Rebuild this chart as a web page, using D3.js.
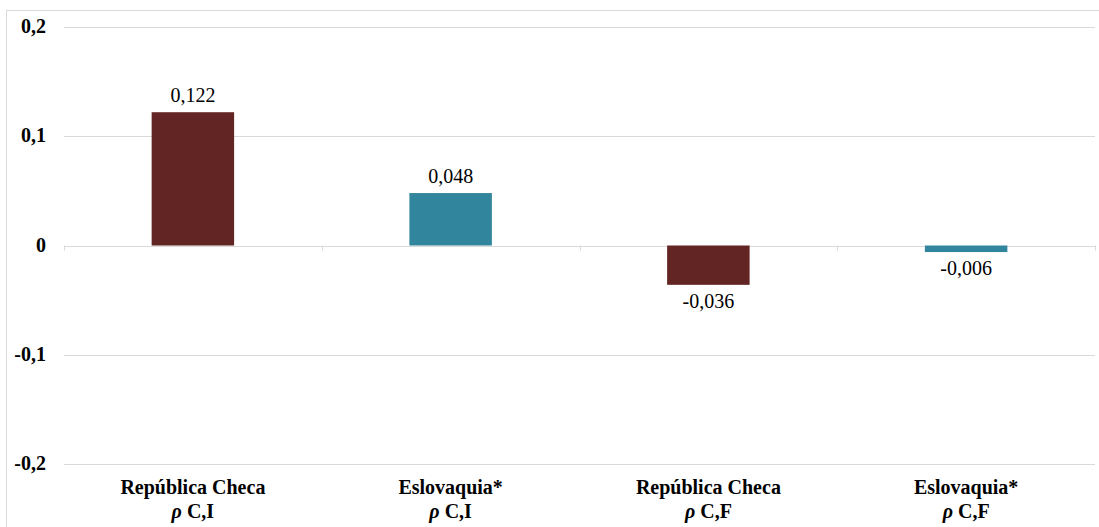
<!DOCTYPE html>
<html>
<head>
<meta charset="utf-8">
<script src="https://cdn.jsdelivr.net/npm/d3@7"></script>
<style>
  body { margin: 0; background: #fff; }
  svg { display: block; }
  svg text { font-family: 'Liberation Serif', 'Times New Roman', 'DejaVu Serif', serif; }
</style>
</head>
<body>
<script>
const countries = ["República Checa", "Eslovaquia*", "República Checa", "Eslovaquia*"];
const measures = ["C,I", "C,I", "C,F", "C,F"];
const values = [0.122, 0.048, -0.036, -0.006];
const barColors = ["#632523", "#31859c", "#632523", "#31859c"];
const yTicks = [-0.2, -0.1, 0, 0.1, 0.2];

const width = 1099, height = 527;
const margin = { top: 27, right: 4, bottom: 63, left: 64 };

const svg = d3.select("body").append("svg")
  .attr("width", width).attr("height", height);

// outer frame
svg.append("rect")
  .attr("x", 6.5).attr("y", 10.5)
  .attr("width", width).attr("height", height)
  .attr("fill", "none").attr("stroke", "#d9d9d9");

const x = d3.scaleBand()
  .domain(d3.range(values.length))
  .range([margin.left, width - margin.right])
  .paddingInner(0.68).paddingOuter(0.34);

const y = d3.scaleLinear()
  .domain([-0.2, 0.2])
  .range([464, 27]);

const comma = (d, p) => d3.format(p)(d).replace(".", ",").replace("\u2212", "-");

// gridlines
svg.append("g")
  .selectAll("line")
  .data(yTicks)
  .join("line")
  .attr("x1", margin.left).attr("x2", width - margin.right)
  .attr("y1", d => Math.round(y(d)) + 0.5).attr("y2", d => Math.round(y(d)) + 0.5)
  .attr("stroke", "#d9d9d9").attr("stroke-width", 1);

// y labels
svg.append("g")
  .selectAll("text")
  .data(yTicks)
  .join("text")
  .attr("x", 46)
  .attr("y", d => y(d) + 6)
  .attr("text-anchor", "end")
  .attr("font-weight", "bold")
  .attr("font-size", 20)
  .text(d => d === 0 ? "0" : comma(d, ".1f"));

// bars
svg.append("g")
  .selectAll("rect")
  .data(values)
  .join("rect")
  .attr("x", (d, i) => x(i))
  .attr("width", x.bandwidth())
  .attr("y", d => y(Math.max(0, d)))
  .attr("height", d => Math.abs(y(d) - y(0)))
  .attr("fill", (d, i) => barColors[i]);

// category axis ticks at zero line
const step = x.step();
svg.append("g")
  .selectAll("line")
  .data(d3.range(values.length + 1))
  .join("line")
  .attr("x1", i => Math.round(margin.left + i * step) + 0.5)
  .attr("x2", i => Math.round(margin.left + i * step) + 0.5)
  .attr("y1", y(0)).attr("y2", y(0) + 5)
  .attr("stroke", "#d9d9d9");

// value labels
svg.append("g")
  .selectAll("text")
  .data(values)
  .join("text")
  .attr("x", (d, i) => x(i) + x.bandwidth() / 2)
  .attr("y", d => d >= 0 ? y(d) - 10 : y(d) + 23)
  .attr("text-anchor", "middle")
  .attr("font-size", 20)
  .attr("fill", "#000")
  .text(d => comma(d, ".3f"));

// category labels
const cat = svg.append("g")
  .selectAll("g")
  .data(values)
  .join("g")
  .attr("transform", (d, i) => `translate(${x(i) + x.bandwidth() / 2},0)`)
  .attr("font-weight", "bold")
  .attr("font-size", 20)
  .attr("text-anchor", "middle");

cat.append("text")
  .attr("y", 494)
  .text((d, i) => countries[i]);

const second = cat.append("text").attr("y", 518);
second.append("tspan").attr("font-style", "italic").text("ρ");
second.append("tspan").text((d, i) => " " + measures[i]);
</script>
</body>
</html>
